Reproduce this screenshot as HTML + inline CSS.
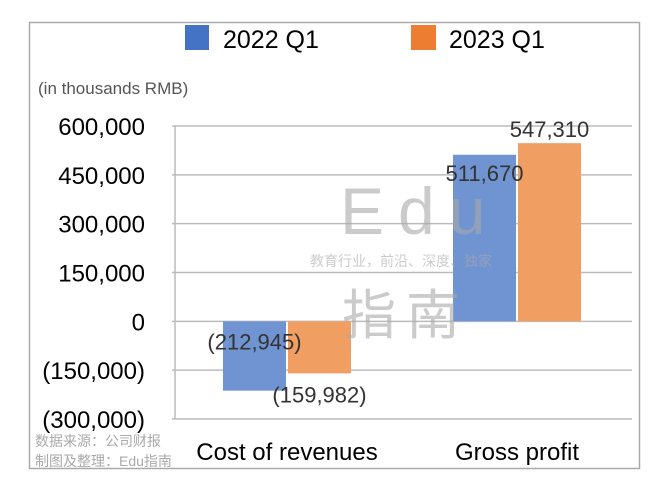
<!DOCTYPE html>
<html><head><meta charset="utf-8"><style>
body{margin:0;background:#fff;overflow:hidden;}
svg{display:block;}
svg text{font-family:"Liberation Sans","Noto Sans CJK SC",sans-serif;}
</style></head><body>
<svg width="668" height="486" viewBox="0 0 668 486">
<rect x="29.5" y="22.5" width="610" height="446" fill="#fff" stroke="#aaa" stroke-width="1.5"/>
<g id="grid"></g>
<g id="bars"></g>
<g fill="#aaa" opacity="0.6">
<text x="340" y="234" font-size="66" letter-spacing="14">Edu</text>
<text x="310" y="266" font-size="14">教育行业，前沿、深度、独家</text>
<text x="342" y="334" font-size="54" letter-spacing="10">指南</text>
</g>
<g id="labels"></g>
<g>
<rect x="185" y="25" width="24" height="25" fill="#4472c4"/>
<text x="223" y="48" font-size="25">2022 Q1</text>
<rect x="411" y="25" width="25" height="25" fill="#ed7d31"/>
<text x="449" y="48" font-size="25">2023 Q1</text>
</g>
<text x="38" y="94" font-size="17" fill="#555">(in thousands RMB)</text>
<text x="35" y="446" font-size="14" fill="#aaa">数据来源：公司财报</text>
<text x="35" y="466" font-size="14" fill="#aaa">制图及整理：Edu指南</text>
</svg>
<script>
const categories=["Cost of revenues","Gross profit"];
const series2022=[-212945,511670];
const series2023=[-159982,547310];
const valueLabels2022=["(212,945)","511,670"];
const valueLabels2023=["(159,982)","547,310"];
const ticks=[600000,450000,300000,150000,0,-150000,-300000];
const tickLabels=["600,000","450,000","300,000","150,000","0","(150,000)","(300,000)"];
const NS="http://www.w3.org/2000/svg";
const x0=172,x1=632,yTop=126,yBot=419,vMax=600000,vMin=-300000;
const y=v=>yTop+(vMax-v)/(vMax-vMin)*(yBot-yTop);
const bandW=(x1-x0)/categories.length;
const cx=i=>x0+bandW*(i+0.5);
function mk(tag,attrs,parent){const e=document.createElementNS(NS,tag);for(const k in attrs)e.setAttribute(k,attrs[k]);document.getElementById(parent).appendChild(e);return e;}
ticks.forEach((t,i)=>{
 const l=mk("line",{x1:x0,x2:x1,y1:y(t),y2:y(t),stroke:"#bbb","stroke-width":1.5},"grid");
 
 
 const tx=mk("text",{x:145,y:y(t)+9,"font-size":24,"text-anchor":"end"},"grid");
 tx.textContent=tickLabels[i];
 
 
});
const ax=mk("line",{x1:x0+3,x2:x0+3,y1:yTop,y2:yBot,stroke:"#bbb","stroke-width":1.5},"grid");


const bw=63;
categories.forEach((c,i)=>{
 [[series2022,"#7094d2",-bw-1,valueLabels2022],[series2023,"#f19e63",1,valueLabels2023]].forEach(([s,col,off,lab],k)=>{
  const v=s[i];
  const r=mk("rect",{x:cx(i)+off,width:bw,y:Math.min(y(v),y(0)),height:Math.abs(y(v)-y(0)),fill:col},"bars");
  
  
  let lx=cx(i)+off+bw/2,ly;
  if(v<0){ ly=k?y(v)+29:y(0)+28; }
  else { ly=k?y(v)-6:y(v)+26; }
  const t=mk("text",{x:lx,y:ly,"font-size":22,"text-anchor":"middle",fill:"#333"},"labels");
  t.textContent=lab[i];
  
  
 });
 const ct=mk("text",{x:cx(i),y:460,"font-size":24,"text-anchor":"middle"},"labels");
 ct.textContent=c;
 
 
});
</script>
</body></html>
